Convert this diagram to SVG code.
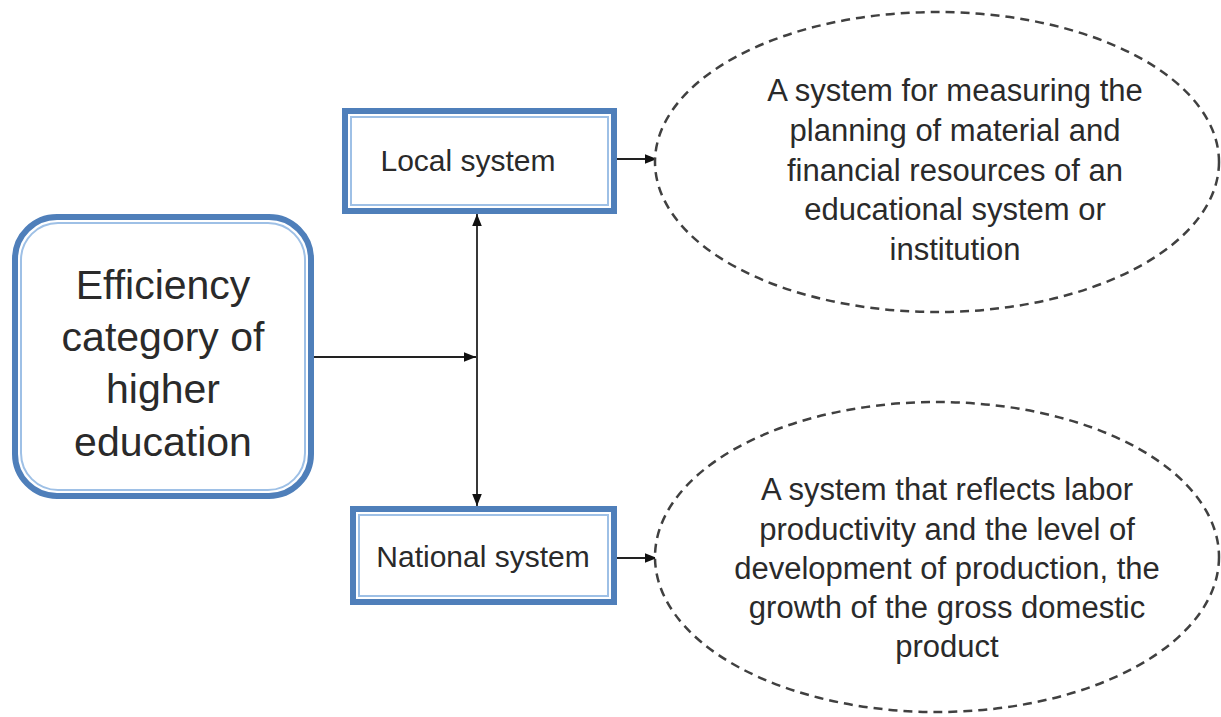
<svg xmlns="http://www.w3.org/2000/svg" width="1221" height="717" viewBox="0 0 1221 717">
<style>
.outer{fill:#fff;stroke:#4f7fba;stroke-width:6}
.inner{fill:none;stroke:#9ec0e6;stroke-width:2}
.ell{fill:#fff;stroke:#404040;stroke-width:2.5;stroke-dasharray:9 6}
.conn{stroke:#222;stroke-width:1.8;fill:none}
text{font-family:"Liberation Sans",Arial,sans-serif;fill:#2a2a2a;text-anchor:middle}
.big{font-size:41px}
.box{font-size:30px}
.desc{font-size:31px}
</style>
<defs>
<marker id="ah2" viewBox="0 0 10 10" refX="10" refY="5" markerWidth="12" markerHeight="12" orient="auto-start-reverse" markerUnits="userSpaceOnUse">
<path d="M0,1 L10,5 L0,9 z" fill="#111"/>
</marker>
</defs>
<g id="connectors">
<line class="conn" x1="314" y1="357" x2="476" y2="357" marker-end="url(#ah2)"/>
<line class="conn" x1="477" y1="214" x2="477" y2="506" marker-start="url(#ah2)" marker-end="url(#ah2)"/>
<line class="conn" x1="617" y1="159" x2="657" y2="159" marker-end="url(#ah2)"/>
<line class="conn" x1="617" y1="558" x2="657" y2="558" marker-end="url(#ah2)"/>
</g>
<g id="main">
<rect class="outer" x="15" y="217" width="296" height="279" rx="42"/>
<rect class="inner" x="21" y="223" width="284" height="267" rx="37"/>
<text class="big" x="163" y="299">Efficiency</text>
<text class="big" x="163" y="351">category of</text>
<text class="big" x="163" y="403">higher</text>
<text class="big" x="163" y="456">education</text>
</g>
<g id="local">
<rect class="outer" x="345" y="111" width="269" height="100"/>
<rect class="inner" x="351" y="117" width="257" height="88"/>
<text class="box" x="468" y="171">Local system</text>
</g>
<g id="national">
<rect class="outer" x="353" y="509" width="261" height="93"/>
<rect class="inner" x="359" y="515" width="249" height="81"/>
<text class="box" x="483" y="567">National system</text>
</g>
<g id="local-desc">
<ellipse class="ell" cx="937" cy="162" rx="282" ry="150"/>
<text class="desc" x="955" y="101">A system for measuring the</text>
<text class="desc" x="955" y="141">planning of material and</text>
<text class="desc" x="955" y="181">financial resources of an</text>
<text class="desc" x="955" y="220">educational system or</text>
<text class="desc" x="955" y="260">institution</text>
</g>
<g id="national-desc">
<ellipse class="ell" cx="937" cy="557" rx="282" ry="155"/>
<text class="desc" x="947" y="500">A system that reflects labor</text>
<text class="desc" x="947" y="540">productivity and the level of</text>
<text class="desc" x="947" y="579">development of production, the</text>
<text class="desc" x="947" y="618">growth of the gross domestic</text>
<text class="desc" x="947" y="657">product</text>
</g>
</svg>
